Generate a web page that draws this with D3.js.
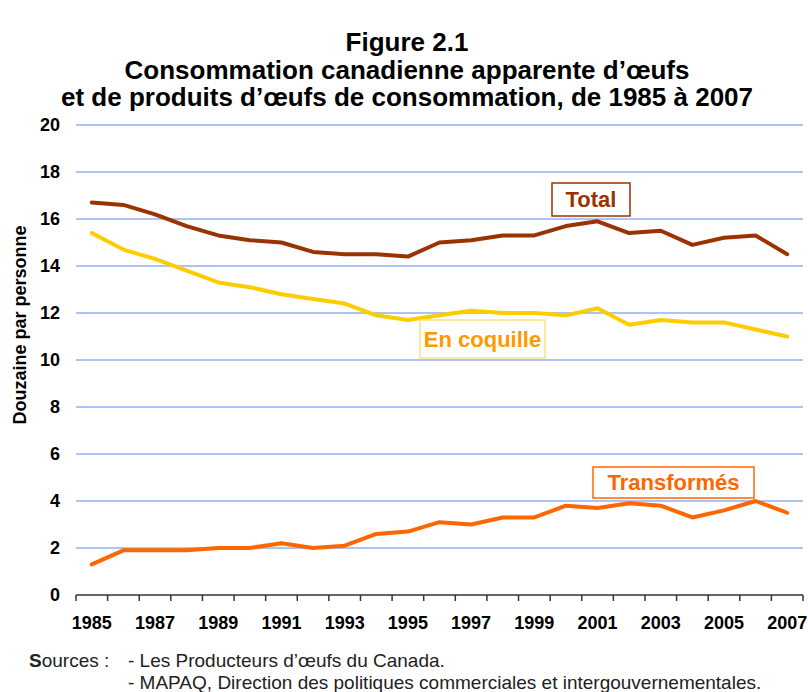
<!DOCTYPE html>
<html>
<head>
<meta charset="utf-8">
<script src="https://cdn.jsdelivr.net/npm/d3@7/dist/d3.min.js"></script>
<style>
  body { margin: 0; background: #fff; }
  svg { display: block; font-family: "Liberation Sans", Arial, sans-serif; }
</style>
</head>
<body>
<svg id="chart" width="808" height="692"></svg>
<script>
// données (douzaines par personne)
const years = d3.range(1985, 2008);
const total = [16.7, 16.6, 16.2, 15.7, 15.3, 15.1, 15.0, 14.6, 14.5, 14.5, 14.4, 15.0, 15.1, 15.3, 15.3, 15.7, 15.9, 15.4, 15.5, 14.9, 15.2, 15.3, 14.5];
const coquille = [15.4, 14.7, 14.3, 13.8, 13.3, 13.1, 12.8, 12.6, 12.4, 11.9, 11.7, 11.9, 12.1, 12.0, 12.0, 11.9, 12.2, 11.5, 11.7, 11.6, 11.6, 11.3, 11.0];
const transformes = [1.3, 1.9, 1.9, 1.9, 2.0, 2.0, 2.2, 2.0, 2.1, 2.6, 2.7, 3.1, 3.0, 3.3, 3.3, 3.8, 3.7, 3.9, 3.8, 3.3, 3.6, 4.0, 3.5];
const yTicks = [0, 2, 4, 6, 8, 10, 12, 14, 16, 18, 20];
const xLabels = years.filter(y => (y - 1985) % 2 === 0);

const titleLines = [
    'Figure 2.1',
    'Consommation canadienne apparente d’œufs',
    'et de produits d’œufs de consommation, de 1985 à 2007'
];

const series = [
    { name: 'Total', values: total, color: '#993300', box: { x: 552, y: 183, w: 78, h: 33 }, text: '#993300', border: '#993300' },
    { name: 'En coquille', values: coquille, color: '#FFCC00', box: { x: 420, y: 320, w: 125, h: 38 }, text: '#FF9900', border: '#FFE080' },
    { name: 'Transformés', values: transformes, color: '#FF6600', box: { x: 593, y: 467, w: 161, h: 31 }, text: '#FF6600', border: '#FF6600' }
];

const svg = d3.select('#chart');
const plotL = 76, plotR = 803, plotT = 125, plotB = 595;

const x = d3.scaleBand().domain(years).range([plotL, plotR]);
const y = d3.scaleLinear().domain([0, 20]).range([plotB, plotT]);
const cx = d => x(d) + x.bandwidth() / 2;

//titre
svg.append('g').selectAll('text')
    .data(titleLines)
    .join('text')
    .attr('x', 407)
    .attr('y', (d, i) => 51 + i * 27.5)
    .attr('text-anchor', 'middle')
    .style('font-size', '26px')
    .style('font-weight', 'bold')
    .text(d => d);

//grille
svg.append('g').selectAll('line')
    .data(yTicks.filter(d => d > 0))
    .join('line')
    .attr('x1', plotL).attr('x2', plotR)
    .attr('y1', d => y(d)).attr('y2', d => y(d))
    .attr('stroke', '#5F86F0')
    .attr('stroke-width', 1);

//axe y (étiquettes)
svg.append('g').selectAll('text')
    .data(yTicks)
    .join('text')
    .attr('x', 60)
    .attr('y', d => y(d))
    .attr('dy', '0.36em')
    .attr('text-anchor', 'end')
    .style('font-size', '18px')
    .style('font-weight', 'bold')
    .text(d => d);

svg.append('text')
    .attr('transform', 'translate(26,325) rotate(-90)')
    .attr('text-anchor', 'middle')
    .style('font-size', '18px')
    .style('font-weight', 'bold')
    .text('Douzaine par personne');

//axe x
const xAxis = svg.append('g');
xAxis.append('line')
    .attr('x1', plotL).attr('x2', plotR)
    .attr('y1', plotB).attr('y2', plotB)
    .attr('stroke', '#333').attr('stroke-width', 1.5);
xAxis.selectAll('line.tick')
    .data(years.concat([null]))
    .join('line')
    .attr('class', 'tick')
    .attr('x1', d => d === null ? plotR : x(d))
    .attr('x2', d => d === null ? plotR : x(d))
    .attr('y1', plotB).attr('y2', plotB + 6)
    .attr('stroke', '#333').attr('stroke-width', 1.5);
xAxis.selectAll('text')
    .data(xLabels)
    .join('text')
    .attr('x', d => cx(d))
    .attr('y', 629)
    .attr('text-anchor', 'middle')
    .style('font-size', '18px')
    .style('font-weight', 'bold')
    .text(d => d);

//courbes
const line = d3.line()
    .x((d, i) => cx(years[i]))
    .y(d => y(d));

svg.append('g').selectAll('path')
    .data(series)
    .join('path')
    .attr('d', s => line(s.values))
    .attr('fill', 'none')
    .attr('stroke', s => s.color)
    .attr('stroke-width', 4)
    .attr('stroke-linejoin', 'round')
    .attr('stroke-linecap', 'round');

//étiquettes des séries
const labels = svg.append('g').selectAll('g')
    .data(series)
    .join('g');
labels.append('rect')
    .attr('x', s => s.box.x).attr('y', s => s.box.y)
    .attr('width', s => s.box.w).attr('height', s => s.box.h)
    .attr('fill', '#fff')
    .attr('stroke', s => s.border)
    .attr('stroke-width', 1.5);
labels.append('text')
    .attr('x', s => s.box.x + s.box.w / 2)
    .attr('y', s => s.box.y + s.box.h / 2)
    .attr('dy', '0.36em')
    .attr('text-anchor', 'middle')
    .style('font-size', '22px')
    .style('font-weight', 'bold')
    .attr('fill', s => s.text)
    .text(s => s.name);

//sources
const src = svg.append('g').style('font-size', '19px').attr('fill', '#222');
const t0 = src.append('text').attr('x', 29).attr('y', 667);
t0.append('tspan').style('font-weight', 'bold').text('S');
t0.append('tspan').text('ources :');
src.append('text').attr('x', 128).attr('y', 667).text('- Les Producteurs d’œufs du Canada.');
src.append('text').attr('x', 128).attr('y', 689).text('- MAPAQ, Direction des politiques commerciales et intergouvernementales.');
</script>
</body>
</html>
